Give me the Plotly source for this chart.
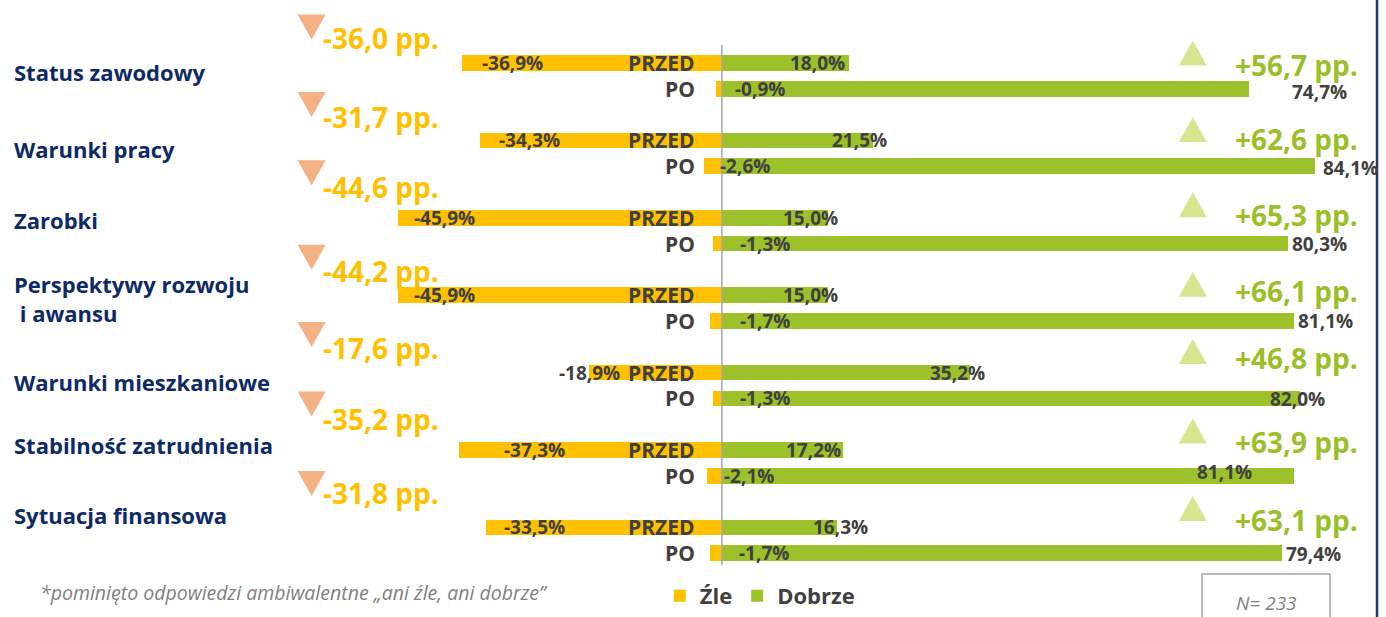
import plotly.graph_objects as go

# ---------------- data ----------------
categories = ["Status zawodowy", "Warunki pracy", "Zarobki",
              "Perspektywy rozwoju<br> i awansu", "Warunki mieszkaniowe",
              "Stabilność zatrudnienia", "Sytuacja finansowa"]
phases = ["PRZED", "PO"]
series_names = ["Źle", "Dobrze"]

przed_zle = [-36.9, -34.3, -45.9, -45.9, -18.9, -37.3, -33.5]
przed_dobrze = [18.0, 21.5, 15.0, 15.0, 35.2, 17.2, 16.3]
po_zle = [-0.9, -2.6, -1.3, -1.7, -1.3, -2.1, -1.7]
po_dobrze = [74.7, 84.1, 80.3, 81.1, 82.0, 81.1, 79.4]
zmiana_zle = [-36.0, -31.7, -44.6, -44.2, -17.6, -35.2, -31.8]
zmiana_dobrze = [56.7, 62.6, 65.3, 66.1, 46.8, 63.9, 63.1]

footnote = "*pominięto odpowiedzi ambiwalentne „ani źle, ani dobrze”"
sample_note = "N= 233"

# ---------------- style ----------------
ORANGE = "#FFC000"
GREEN = "#9DC12B"
GREEN_TXT = "#9BBF2B"
TRI_ORANGE = "#F4B183"
TRI_GREEN = "#D6E68F"
NAVY = "#0E2A66"
DARK = "#404040"
GREY = "#7F7F7F"
FONT = "Open Sans"

W, H = 1386, 617
X_RANGE = [-102.4, 94.2]
Y_RANGE = [21.473, -2.442]
PX_X = W / (X_RANGE[1] - X_RANGE[0])      # pixels per x unit
PX_Y = H / (Y_RANGE[0] - Y_RANGE[1])      # pixels per y unit
GROUP_STEP = 3          # rows per category (PRZED, PO, gap)

# label pixel nudges (layout only)
cat_dy = [-9, -9, -2, -3, -9, 5, 12]
przed_zle_dx = [18, 17, 14, 14, -32, 43, 16]
przed_dobrze_dx = [-2, 16, 12, 12, 17, 0, 33]
po_zle_dx = [11, -4, 16, 16, 16, 0, 15]
po_dobrze_dx = [41, 6, 2, 2, -32, -99, 2]
po_dobrze_dy = [-3, -2, 0, 0, -1, 4, -1]
tri_zle_dy = [-36, -36, -45, -38, -38, -46, -44]
txt_zle_dy = [-25, -23, -31, -24, -25, -31, -34]
tri_dobrze_dy = [-10, -11, -13, -11, -21, -19, -19]
txt_dobrze_dy = [2, -1, -3, -4, -15, -8, -7]

# decoration positions (x in axis units)
TRI_X_ZLE, TXT_X_ZLE = -58.2, -56.9
TRI_X_DOBRZE, TXT_X_DOBRZE = 66.8, 90.5
TRI_W, TRI_H = 28, 25   # px


def fmt(v, dec=1):
    return f"{v:.{dec}f}".replace(".", ",")


def row_y(i, j):
    return GROUP_STEP * i + j


def tri_path(cx, cy, down):
    hw = TRI_W / 2 / PX_X
    hh = TRI_H / 2 / PX_Y
    if down:   # y axis reversed: larger y = lower on screen
        return f"M{cx - hw},{cy - hh} L{cx + hw},{cy - hh} L{cx},{cy + hh} Z"
    return f"M{cx - hw},{cy + hh} L{cx + hw},{cy + hh} L{cx},{cy - hh} Z"


ys, zle, dobrze = [], [], []
for i in range(len(categories)):
    for j, (z, d) in enumerate([(przed_zle[i], przed_dobrze[i]), (po_zle[i], po_dobrze[i])]):
        ys.append(row_y(i, j))
        zle.append(z)
        dobrze.append(d)

fig = go.Figure()
fig.add_bar(x=zle, y=ys, orientation="h", name=f"<b>{series_names[0]}</b>",
            marker=dict(color=ORANGE, line=dict(width=0)), width=0.6)
fig.add_bar(x=dobrze, y=ys, orientation="h", name=f"<b>{series_names[1]}</b>",
            marker=dict(color=GREEN, line=dict(width=0)), width=0.6)

n = len(categories)
ann = []
shapes = []
lab_font = dict(family=FONT, size=19, color=DARK)
for i in range(n):
    yp, yo = row_y(i, 0), row_y(i, 1)
    # category name
    ann.append(dict(x=12 / W, xref="paper", y=yp, yref="y", yshift=cat_dy[i],
                    xanchor="left", yanchor="middle", align="left", showarrow=False,
                    text=f"<b>{categories[i]}</b>",
                    font=dict(family=FONT, size=22, color=NAVY)))
    # phase labels
    for yy, ph in [(yp, phases[0]), (yo, phases[1])]:
        ann.append(dict(x=0, y=yy, xanchor="right", yanchor="middle", xshift=-25,
                        showarrow=False, text=f"<b>{ph}</b>",
                        font=dict(family=FONT, size=21, color=DARK)))
    # value labels
    ann.append(dict(x=przed_zle[i], y=yp, xanchor="left", yanchor="middle",
                    xshift=przed_zle_dx[i], showarrow=False,
                    text=f"<b>{fmt(przed_zle[i])}%</b>", font=lab_font))
    ann.append(dict(x=przed_dobrze[i], y=yp, xanchor="right", yanchor="middle",
                    xshift=przed_dobrze_dx[i], showarrow=False,
                    text=f"<b>{fmt(przed_dobrze[i])}%</b>", font=lab_font))
    ann.append(dict(x=0, y=yo, xanchor="left", yanchor="middle",
                    xshift=po_zle_dx[i], showarrow=False,
                    text=f"<b>{fmt(po_zle[i])}%</b>", font=lab_font))
    ann.append(dict(x=po_dobrze[i], y=yo, xanchor="left", yanchor="middle",
                    xshift=po_dobrze_dx[i], yshift=po_dobrze_dy[i], showarrow=False,
                    text=f"<b>{fmt(po_dobrze[i])}%</b>", font=lab_font))
    # change annotations
    ann.append(dict(x=TXT_X_ZLE, y=yp + txt_zle_dy[i] / PX_Y, xanchor="left",
                    yanchor="middle", showarrow=False,
                    text=f"<b>{fmt(zmiana_zle[i])} pp.</b>",
                    font=dict(family=FONT, size=28, color=ORANGE)))
    ann.append(dict(x=TXT_X_DOBRZE, y=yp + txt_dobrze_dy[i] / PX_Y, xanchor="right",
                    yanchor="middle", showarrow=False,
                    text=f"<b>+{fmt(zmiana_dobrze[i])} pp.</b>",
                    font=dict(family=FONT, size=28, color=GREEN_TXT)))
    # triangles
    shapes.append(dict(type="path", xref="x", yref="y", line=dict(width=0),
                       fillcolor=TRI_ORANGE,
                       path=tri_path(TRI_X_ZLE, yp + tri_zle_dy[i] / PX_Y, True)))
    shapes.append(dict(type="path", xref="x", yref="y", line=dict(width=0),
                       fillcolor=TRI_GREEN,
                       path=tri_path(TRI_X_DOBRZE, yp + tri_dobrze_dy[i] / PX_Y, False)))

ann.append(dict(x=38 / W, xref="paper", y=(H - 592) / H, yref="paper",
                xanchor="left", yanchor="middle", showarrow=False,
                text=f"<i>{footnote}</i>", font=dict(family=FONT, size=19.5, color=GREY)))
ann.append(dict(x=1266 / W, xref="paper", y=(H - 603) / H, yref="paper",
                xanchor="center", yanchor="middle", showarrow=False,
                text=f"<i>{sample_note}</i>", font=dict(family=FONT, size=19, color=GREY)))

shapes += [
    dict(type="line", xref="x", yref="y", x0=0, x1=0,
         y0=-18 / PX_Y, y1=19 + 12 / PX_Y,
         line=dict(color="#A6A6A6", width=1.5)),
    dict(type="line", xref="paper", yref="paper", x0=1377 / W, x1=1377 / W, y0=0, y1=1,
         line=dict(color="#1F3864", width=2.5)),
    dict(type="rect", xref="paper", yref="paper", x0=1202 / W, x1=1330 / W,
         y0=-0.05, y1=(H - 574) / H, line=dict(color="#A6A6A6", width=1.5)),
]

fig.update_layout(
    width=W, height=H, margin=dict(l=0, r=0, t=0, b=0, autoexpand=False),
    paper_bgcolor="white", plot_bgcolor="white",
    barmode="relative", bargap=0,
    xaxis=dict(range=X_RANGE, visible=False, fixedrange=True),
    yaxis=dict(range=Y_RANGE, visible=False, fixedrange=True),
    annotations=ann, shapes=shapes,
    showlegend=True,
    legend=dict(orientation="h", x=0.476, xanchor="left", y=0.0,
                yanchor="bottom",
                font=dict(family=FONT, size=22, color=DARK), itemwidth=30,
                bgcolor="rgba(0,0,0,0)", traceorder="normal"),
    font=dict(family=FONT),
)

fig.write_html("out.html", config={"displayModeBar": False},
               post_script="document.body.style.margin='0';document.body.style.overflow='hidden';")
